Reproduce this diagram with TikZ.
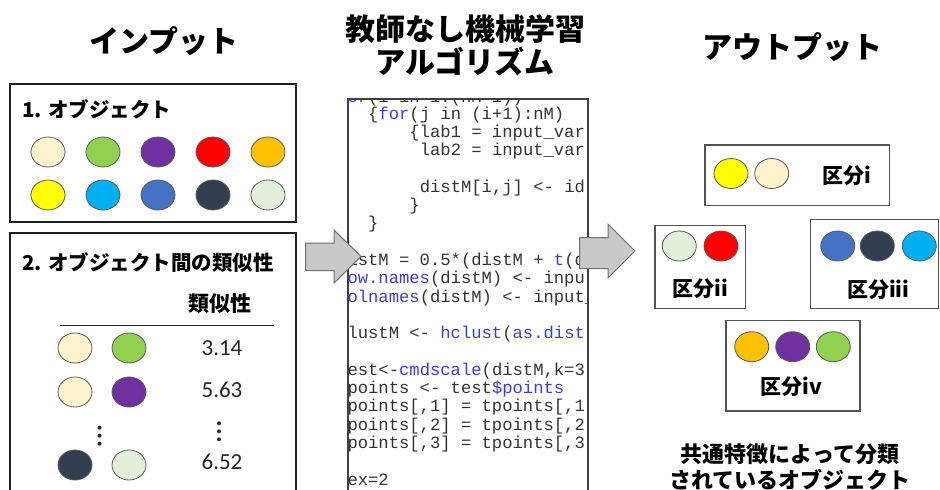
\documentclass[tikz,border=0pt]{standalone}
\usepackage{fontspec}
\setmonofont{Liberation Mono}
\newfontfamily\jp{Noto Sans CJK JP}
\newfontfamily\numfont{Carlito}
\usetikzlibrary{shapes.geometric}
\definecolor{cCream}{HTML}{FFF2CC}
\definecolor{cGreen}{HTML}{92D050}
\definecolor{cPurple}{HTML}{7030A0}
\definecolor{cRed}{HTML}{FF0000}
\definecolor{cOrange}{HTML}{FFC000}
\definecolor{cYellow}{HTML}{FFFF00}
\definecolor{cSky}{HTML}{00B0F0}
\definecolor{cBlue}{HTML}{4472C4}
\definecolor{cNavy}{HTML}{333F50}
\definecolor{cMint}{HTML}{E2EFDA}
\definecolor{arrowfill}{HTML}{C8C8C8}
\definecolor{arrowline}{HTML}{6E6E6E}
\definecolor{codeblue}{HTML}{3C3CE6}
\definecolor{codeblack}{HTML}{333333}
\definecolor{objline}{HTML}{595959}
\newcommand\kw[1]{\textcolor{codeblue}{#1}}
\tikzset{
  obj/.style={ellipse, draw=objline, line width=0.8pt, minimum width=34pt, minimum height=30pt, inner sep=0pt},
  inbox/.style={draw=black!88, line width=1.2pt},
  outbox/.style={draw=black!68, line width=1.2pt},
  codebox/.style={draw=black!75, line width=1.2pt},
  ttl/.style={font=\jp\bfseries\fontsize{30}{36}\selectfont, inner sep=0pt, align=center},
  lbl/.style={font=\jp\bfseries\fontsize{20.5}{24}\selectfont, inner sep=0pt},
  grp/.style={font=\jp\bfseries\fontsize{21}{24}\selectfont, inner sep=0pt},
  numlbl/.style={font=\numfont\fontsize{23}{26}\selectfont, inner sep=0pt, text=black!85},
  codeln/.style={anchor=base west, inner sep=0pt, font=\ttfamily\fontsize{17.2}{18.3}\selectfont, text=codeblack},
  blockarrow/.style={fill=arrowfill, draw=arrowline, line width=1pt, line join=miter}
}
\begin{document}
\begin{tikzpicture}[x=1pt,y=-1pt]
\useasboundingbox (0,0) rectangle (940,490);

% ---------- titles ----------
\node[ttl] (tin) at (164,41.5) {インプット};
\node[ttl] (talg) at (465,45) {教師なし機械学習\\[-3pt]アルゴリズム};
\node[ttl] (tout) at (792,47.5) {アウトプット};

% ---------- input box 1 ----------
\draw[inbox] (10,84) rectangle (296,222);
\node[lbl, anchor=west] (h1) at (22,109.5) {1. オブジェクト};
\node[obj, fill=cCream]  (o1) at (48,152) {};
\node[obj, fill=cGreen]  (o2) at (103,152) {};
\node[obj, fill=cPurple] (o3) at (158,152) {};
\node[obj, fill=cRed]    (o4) at (213,152) {};
\node[obj, fill=cOrange] (o5) at (268,152) {};
\node[obj, fill=cYellow] (o6) at (48,195) {};
\node[obj, fill=cSky]    (o7) at (103,195) {};
\node[obj, fill=cBlue]   (o8) at (158,195) {};
\node[obj, fill=cNavy]   (o9) at (213,195) {};
\node[obj, fill=cMint]   (o10) at (268,195) {};

% ---------- input box 2 ----------
\draw[inbox] (10,492) -- (10,233) -- (296,233) -- (296,492);
\node[lbl, anchor=west] (h2) at (22,263) {2. オブジェクト間の類似性};
\node[grp] (simh) at (220,304) {類似性};
\draw[line width=1pt, black!85] (60,325) -- (274,325);
\node[obj, fill=cCream] (p1a) at (75,348) {};
\node[obj, fill=cGreen] (p1b) at (129,348) {};
\node[numlbl] (v1) at (222,348) {3.14};
\node[obj, fill=cCream]  (p2a) at (75,392) {};
\node[obj, fill=cPurple] (p2b) at (129,392) {};
\node[numlbl] (v2) at (222,390) {5.63};
\foreach \yy in {427.7,435.7,443.7} \fill[black!85] (99.5,\yy) circle (2pt);
\foreach \yy in {423.3,431.3,439.3} \fill[black!85] (219,\yy) circle (2pt);
\node[obj, fill=cNavy] (p3a) at (75,465) {};
\node[obj, fill=cMint] (p3b) at (129,465) {};
\node[numlbl] (v3) at (222,462) {6.52};

% ---------- code panel ----------
\begin{scope}
\clip (348,99) rectangle (588,490);
\node[codeln] (c0)  at (347.3,102.5) {\kw{or}(i in 1:(nM-1))};
\node[codeln] (c1)  at (368.0,119.0) {\{\kw{for}(j in (i+1):nM)};
\node[codeln] (c2)  at (409.2,137.3) {\{lab1 = input\_var};
\node[codeln] (c3)  at (419.6,155.6) {lab2 = input\_var};
\node[codeln] (c5)  at (419.6,192.2) {distM[i,j] <- id};
\node[codeln] (c6)  at (409.2,210.5) {\}};
\node[codeln] (c7)  at (368.0,228.8) {\}};
\node[codeln] (c9)  at (347.3,265.4) {istM = 0.5*(distM + \kw{t}(d};
\node[codeln] (c10) at (347.3,283.7) {\kw{ow.names}(distM) <- inpu};
\node[codeln] (c11) at (347.3,302.0) {\kw{olnames}(distM) <- input\_};
\node[codeln] (c13) at (347.3,338.6) {lustM <- \kw{hclust}(\kw{as.dist}};
\node[codeln] (c15) at (347.3,375.2) {est<-\kw{cmdscale}(distM,k=3};
\node[codeln] (c16) at (347.3,393.5) {points <- test\kw{\$points}};
\node[codeln] (c17) at (347.3,411.8) {points[,1] = tpoints[,1};
\node[codeln] (c18) at (347.3,430.1) {points[,2] = tpoints[,2};
\node[codeln] (c19) at (347.3,448.4) {points[,3] = tpoints[,3};
\node[codeln] (c21) at (347.3,485.0) {ex=2};
\end{scope}
\draw[codebox] (348,492) -- (348,99) -- (588,99) -- (588,492);

% ---------- block arrows ----------
\draw[blockarrow] (305.7,243) -- (334,243) -- (334,230) -- (361,256.5) -- (334,283) -- (334,270.5) -- (305.7,270.5) -- cycle;
\draw[blockarrow] (579.5,237.5) -- (608,237.5) -- (608,224) -- (635,251) -- (608,278) -- (608,268.5) -- (579.5,268.5) -- cycle;

% ---------- output groups ----------
\draw[outbox] (705,145) rectangle (889.3,205.7);
\node[obj, fill=cYellow] (g1a) at (731,173.5) {};
\node[obj, fill=cCream]  (g1b) at (771.7,173.5) {};
\node[grp] (g1t) at (846.7,175.7) {区分i};

\draw[outbox] (655,225.7) rectangle (745.7,308.7);
\node[obj, fill=cMint] (g2a) at (679.3,246) {};
\node[obj, fill=cRed]  (g2b) at (721,246) {};
\node[grp] (g2t) at (700,288.3) {区分ii};

\draw[outbox] (810.7,219.3) rectangle (938.5,308.3);
\node[obj, fill=cBlue] (g3a) at (837.7,246) {};
\node[obj, fill=cNavy] (g3b) at (877.3,246) {};
\node[obj, fill=cSky]  (g3c) at (919.3,246) {};
\node[grp] (g3t) at (878.3,290) {区分iii};

\draw[outbox] (726,320.7) rectangle (860,411);
\node[obj, fill=cOrange] (g4a) at (751.7,346.7) {};
\node[obj, fill=cPurple] (g4b) at (792.7,346.7) {};
\node[obj, fill=cGreen]  (g4c) at (833.3,346.7) {};
\node[grp] (g4t) at (791.7,386.7) {区分iv};

\node[font=\jp\bfseries\fontsize{22}{26}\selectfont, inner sep=0pt, align=center] (cap) at (790,467) {共通特徴によって分類\\されているオブジェクト};
\end{tikzpicture}
\end{document}
